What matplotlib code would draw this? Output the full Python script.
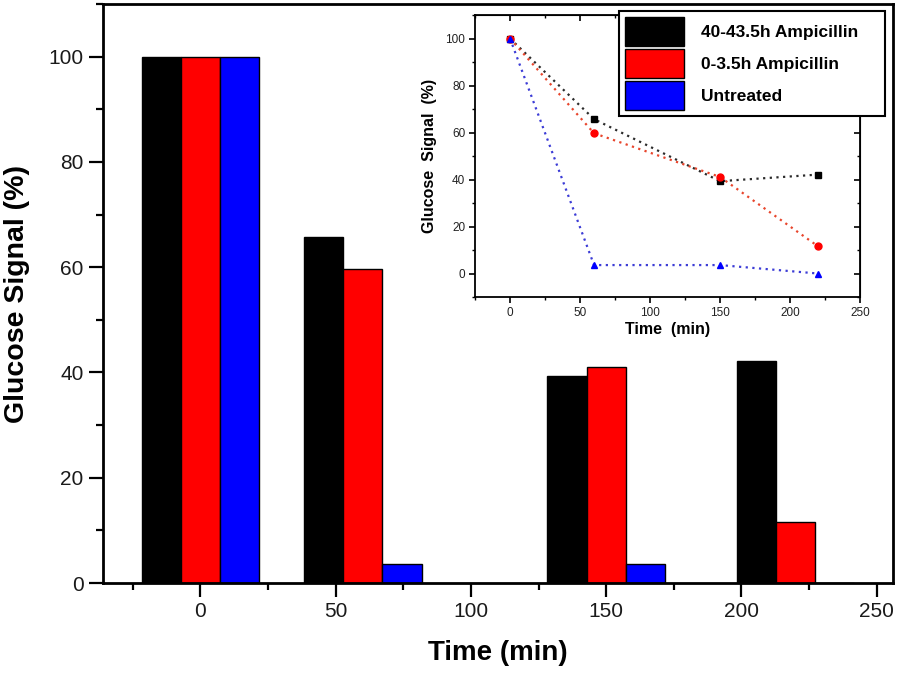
import numpy as np
import matplotlib
matplotlib.use('Agg')
import matplotlib.pyplot as plt
from matplotlib.ticker import MultipleLocator, NullFormatter

plt.rcParams['font.family'] = ['Liberation Sans', 'DejaVu Sans']

# data
times = [0, 60, 150, 220]
late_amp = [100, 65.7, 39.3, 42.1]    # 40-43.5h Ampicillin
early_amp = [100, 59.7, 41.1, 11.6]   # 0-3.5h Ampicillin
untreated = [100, 3.6, 3.6, 0]
series_names = ['40-43.5h Ampicillin', '0-3.5h Ampicillin', 'Untreated']

bar_colors = ['#000000', '#ff0000', '#0000ff']
line_colors = ['#2b2b2b', '#e8452c', '#3c3cd6']
marker_colors = ['black', 'red', 'blue']
markers = ['s', 'o', '^']

fig = plt.figure(figsize=(8.98, 6.74), dpi=100)

# main bar chart
ax = fig.add_axes([0.1147, 0.135, 0.8797, 0.859])
bw = 14.5
t = np.array(times)
series = [late_amp, early_amp, untreated]
bars = []
for i, (vals, c, name) in enumerate(zip(series, bar_colors, series_names)):
    b = ax.bar(t + (i - 1) * bw, vals, width=bw, color=c, edgecolor='black',
               linewidth=1, label=name, zorder=2)
    bars.append(b)

ax.set_xlim(-36, 256)
ax.set_ylim(0, 110)
ax.xaxis.set_major_locator(MultipleLocator(50))
ax.xaxis.set_minor_locator(MultipleLocator(25))
ax.yaxis.set_major_locator(MultipleLocator(20))
ax.yaxis.set_minor_locator(MultipleLocator(10))
ax.tick_params(which='major', direction='out', length=10, width=1.6,
               labelsize=15, pad=4, labelcolor='#1a1a1a')
ax.tick_params(which='minor', direction='out', length=5, width=1.6)
for s in ax.spines.values():
    s.set_linewidth(2)
ax.set_xlabel('Time (min)', fontsize=20, fontweight='bold', labelpad=13)
ax.set_ylabel('Glucose Signal (%)', fontsize=20.5, fontweight='bold', labelpad=13)

# inset line chart
ins = fig.add_axes([0.529, 0.5593, 0.4287, 0.4184])
for vals, c, m, mc in zip(series, line_colors, markers, marker_colors):
    ins.plot(times, vals, ls=(0, (1, 2)), lw=1.6, color=c, marker=m, ms=5,
             mfc=mc, mec=mc)
ins.set_xlim(-25, 250)
ins.set_ylim(-10, 110)
ins.xaxis.set_major_locator(MultipleLocator(50))
ins.xaxis.set_minor_locator(MultipleLocator(25))
ins.yaxis.set_major_locator(MultipleLocator(20))
ins.yaxis.set_minor_locator(MultipleLocator(10))
ins.tick_params(which='major', direction='out', length=4, width=1.2,
                labelsize=8.5, pad=3, labelcolor='#222222')
ins.tick_params(which='minor', direction='out', length=2, width=1.0)
for s in ins.spines.values():
    s.set_linewidth(1.3)

# mirrored ticks pointing inward on top and right, Origin style
top = ins.secondary_xaxis('top')
right = ins.secondary_yaxis('right')
for sec in (top, right):
    sec.tick_params(which='major', direction='in', length=4, width=1.2)
    sec.tick_params(which='minor', direction='in', length=2, width=1.0)
top.xaxis.set_major_locator(MultipleLocator(50))
top.xaxis.set_minor_locator(MultipleLocator(25))
top.xaxis.set_major_formatter(NullFormatter())
right.yaxis.set_major_locator(MultipleLocator(20))
right.yaxis.set_minor_locator(MultipleLocator(10))
right.yaxis.set_major_formatter(NullFormatter())

ins.set_xlabel('Time  (min)', fontsize=11.5, fontweight='bold', labelpad=2)
ins.set_ylabel('Glucose  Signal  (%)', fontsize=11.5, fontweight='bold', labelpad=6)

# legend sits over both axes
leg = fig.legend(handles=bars, labels=series_names, loc='upper left',
                 bbox_to_anchor=(619 / 898, 1 - 12 / 674, 266 / 898, 0.001),
                 bbox_transform=fig.transFigure, mode='expand',
                 prop={'size': 12.5, 'weight': 'bold'},
                 handlelength=3.4, handleheight=2.2, labelspacing=0.15,
                 handletextpad=1.0, borderpad=0.35, borderaxespad=0,
                 fancybox=False, framealpha=1, edgecolor='black')
leg.get_frame().set_linewidth(1.5)

fig.savefig('out.png', dpi=100)
